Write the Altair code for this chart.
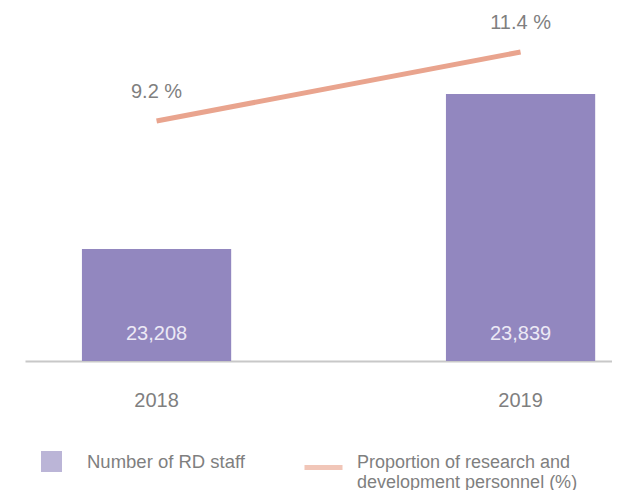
import altair as alt
import pandas as pd

years = ["2018", "2019"]
rd_staff = [23208, 23839]
rd_share = [9.2, 11.4]
bar_name = "Number of RD staff"
line_name = "Proportion of research and|development personnel (%)"

df = pd.DataFrame({
    "year": years,
    "staff": rd_staff,
    "share": rd_share,
    "bar_series": [bar_name] * len(years),
    "line_series": [line_name] * len(years),
})

BAR = "#9287bf"
LINE = "#e9a48e"
TXT = "#7f7f7f"
FONT = "Liberation Sans"
W, H = 587, 341

x = alt.X(
    "year:N",
    title=None,
    scale=alt.Scale(paddingInner=0.59, paddingOuter=0.1013, align=0.772),
    axis=alt.Axis(
        domainColor="#c8c8c8", domainWidth=2, ticks=False, grid=False,
        labelFont=FONT, labelFontSize=20, labelColor=TXT, labelPadding=29,
        labelAngle=0, labelBaseline="top",
    ),
)

y_bar = alt.Scale(domain=[22752, 24140], zero=False, nice=False, clamp=True)
y_line = alt.Scale(domain=[1.55, 12.42], zero=False, nice=False)

bars = alt.Chart(df).mark_bar().encode(
    x=x,
    y=alt.Y("staff:Q", scale=y_bar, axis=None),
    fill=alt.Fill(
        "bar_series:N",
        scale=alt.Scale(domain=[bar_name], range=[BAR]),
        legend=alt.Legend(
            title=None, orient="none", legendX=16, legendY=431, padding=0,
            symbolType="square", symbolSize=441, symbolStrokeWidth=0,
            symbolOpacity=0.62, labelOffset=25, labelFont=FONT,
            labelFontSize=18.5, labelColor=TXT, labelLimit=400,
        ),
    ),
)

bar_labels = alt.Chart(df).transform_calculate(
    lbl="format(datum.staff, ',')"
).mark_text(
    font=FONT, fontSize=20, color="#ece9f5", baseline="middle", dy=-27
).encode(
    x=alt.X("year:N", title=None),
    y=alt.value(H),
    text="lbl:N",
)

line = alt.Chart(df).mark_line(strokeWidth=5, strokeCap="butt").encode(
    x=alt.X("year:N", title=None),
    y=alt.Y("share:Q", scale=y_line, axis=None),
    stroke=alt.Stroke(
        "line_series:N",
        scale=alt.Scale(domain=[line_name], range=[LINE]),
        legend=alt.Legend(
            title=None, orient="none", legendX=277, legendY=426, padding=0,
            symbolType="stroke", symbolSize=1444, symbolStrokeWidth=5,
            symbolOpacity=0.62, labelOffset=12, labelFont=FONT,
            labelFontSize=18, labelColor=TXT, labelLimit=400,
            labelExpr="split(datum.label, '|')", labelBaseline="alphabetic",
        ),
    ),
)

line_labels = alt.Chart(df).transform_calculate(
    lbl="format(datum.share, '.1f') + ' %'"
).mark_text(
    font=FONT, fontSize=20, color=TXT, baseline="middle", dy=-29
).encode(
    x=alt.X("year:N", title=None),
    y=alt.Y("share:Q", scale=y_line, axis=None),
    text="lbl:N",
)

chart = alt.layer(
    alt.layer(bars, bar_labels),
    alt.layer(line, line_labels),
).resolve_scale(y="independent").properties(
    width=W, height=H,
    autosize=alt.AutoSizeParams(type="none"),
    padding={"left": 17, "top": 12, "right": 0, "bottom": 129},
).configure_view(stroke=None)

chart.save("out.html", embed_options={"renderer": "svg", "actions": False})
